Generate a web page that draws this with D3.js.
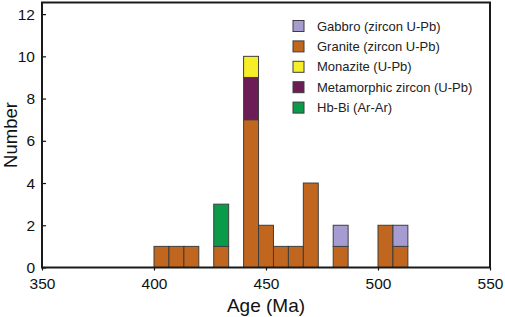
<!DOCTYPE html>
<html>
<head>
<meta charset="utf-8">
<script src="https://cdn.jsdelivr.net/npm/d3@7"></script>
<style>
  body { margin: 0; background: #fff; }
  text { font-family: "Liberation Sans", Arial, sans-serif; }
</style>
</head>
<body>
<div id="plot"></div>
<script>
// bin left edges (Ma), bins are 20/3 Ma wide
const binStarts = [400, 406.667, 413.333, 426.667, 440, 446.667, 453.333, 460, 466.667, 480, 500, 506.667];
const binWidth = 20 / 3;

const granite     = [1, 1, 1, 1, 7, 2, 1, 1, 4, 1, 2, 1];
const metamorphic = [0, 0, 0, 0, 2, 0, 0, 0, 0, 0, 0, 0];
const monazite    = [0, 0, 0, 0, 1, 0, 0, 0, 0, 0, 0, 0];
const hbbi        = [0, 0, 0, 2, 0, 0, 0, 0, 0, 0, 0, 0];
const gabbro      = [0, 0, 0, 0, 0, 0, 0, 0, 0, 1, 0, 1];

const xTicks = [350, 400, 450, 500, 550];
const yTicks = [0, 2, 4, 6, 8, 10, 12];

// legend order as in the figure
const legendItems = [
    {key: 'gabbro', label: 'Gabbro (zircon U-Pb)', color: '#a69cd2'},
    {key: 'granite', label: 'Granite (zircon U-Pb)', color: '#c1661f'},
    {key: 'monazite', label: 'Monazite (U-Pb)', color: '#f7ee2a'},
    {key: 'metamorphic', label: 'Metamorphic zircon (U-Pb)', color: '#6d1d56'},
    {key: 'hbbi', label: 'Hb-Bi (Ar-Ar)', color: '#0b9a4a'},
];
const color = {};
legendItems.forEach(d => color[d.key] = d.color);

const width = 505;
const height = 317;
const margin = {top: 2.5, bottom: 49.5, left: 42, right: 15};

const rows = binStarts.map((b, i) => ({
    start: b,
    granite: granite[i],
    metamorphic: metamorphic[i],
    monazite: monazite[i],
    hbbi: hbbi[i],
    gabbro: gabbro[i]
}));

const stack = d3.stack().keys(['granite', 'metamorphic', 'monazite', 'hbbi', 'gabbro']);
const series = stack(rows);

const svg = d3.select('#plot')
    .append('svg')
    .attr('width', width)
    .attr('height', height);

const x = d3.scaleLinear()
    .domain([350, 550])
    .range([margin.left, width - margin.right]);

const y = d3.scaleLinear()
    .domain([0, 12.55])
    .range([height - margin.bottom, margin.top]);

svg.append('g')
    .selectAll('g')
    .data(series)
    .join('g')
    .attr('fill', d => color[d.key])
    .selectAll('rect')
    .data(d => d.filter(s => s[1] > s[0]))
    .join('rect')
    .attr('x', d => x(d.data.start))
    .attr('width', d => x(d.data.start + binWidth) - x(d.data.start))
    .attr('y', d => y(d[1]))
    .attr('height', d => y(d[0]) - y(d[1]))
    .attr('stroke', '#3d3d3d')
    .attr('stroke-width', 1);

function xAxis(g) {
    g.attr('transform', `translate(0,${height - margin.bottom})`)
        .call(d3.axisBottom(x).tickValues(xTicks).tickSize(3).tickPadding(7.5).tickSizeOuter(0))
        .attr('font-size', '15.5px')
        .attr('font-family', null);
    g.select('.domain').remove();
    g.selectAll('.tick line').attr('stroke', '#111').attr('stroke-width', 1.2);
    g.selectAll('.tick text').attr('fill', '#111');
}

function yAxis(g) {
    g.attr('transform', `translate(${margin.left},0)`)
        .call(d3.axisLeft(y).tickValues(yTicks).tickSize(-4).tickPadding(7).tickSizeOuter(0))
        .attr('font-size', '15.5px')
        .attr('font-family', null);
    g.select('.domain').remove();
    g.selectAll('.tick line').attr('stroke', '#111').attr('stroke-width', 1.2);
    g.selectAll('.tick text').attr('fill', '#111');
}

svg.append('g').call(xAxis);
svg.append('g').call(yAxis);

// frame
svg.append('rect')
    .attr('x', margin.left)
    .attr('y', margin.top)
    .attr('width', width - margin.left - margin.right)
    .attr('height', height - margin.top - margin.bottom)
    .attr('fill', 'none')
    .attr('stroke', '#1a1a1a')
    .attr('stroke-width', 2);

// axis titles
svg.append('text')
    .attr('x', (margin.left + width - margin.right) / 2)
    .attr('y', 312)
    .attr('text-anchor', 'middle')
    .attr('font-size', '19px')
    .attr('fill', '#111')
    .text('Age (Ma)');

svg.append('text')
    .attr('transform', `translate(16.5,${(margin.top + height - margin.bottom) / 2}) rotate(-90)`)
    .attr('text-anchor', 'middle')
    .attr('font-size', '18.5px')
    .attr('fill', '#111')
    .text('Number');

// legend
const legend = svg.append('g')
    .attr('transform', 'translate(293,20.5)');

const item = legend.selectAll('g')
    .data(legendItems)
    .join('g')
    .attr('transform', (d, i) => `translate(0,${i * 20.4})`);

item.append('rect')
    .attr('width', 11)
    .attr('height', 11)
    .attr('fill', d => d.color)
    .attr('stroke', '#3d3d3d')
    .attr('stroke-width', 1);

item.append('text')
    .attr('x', 24)
    .attr('y', 10)
    .attr('font-size', '13px')
    .attr('fill', '#222')
    .text(d => d.label);
</script>
</body>
</html>
